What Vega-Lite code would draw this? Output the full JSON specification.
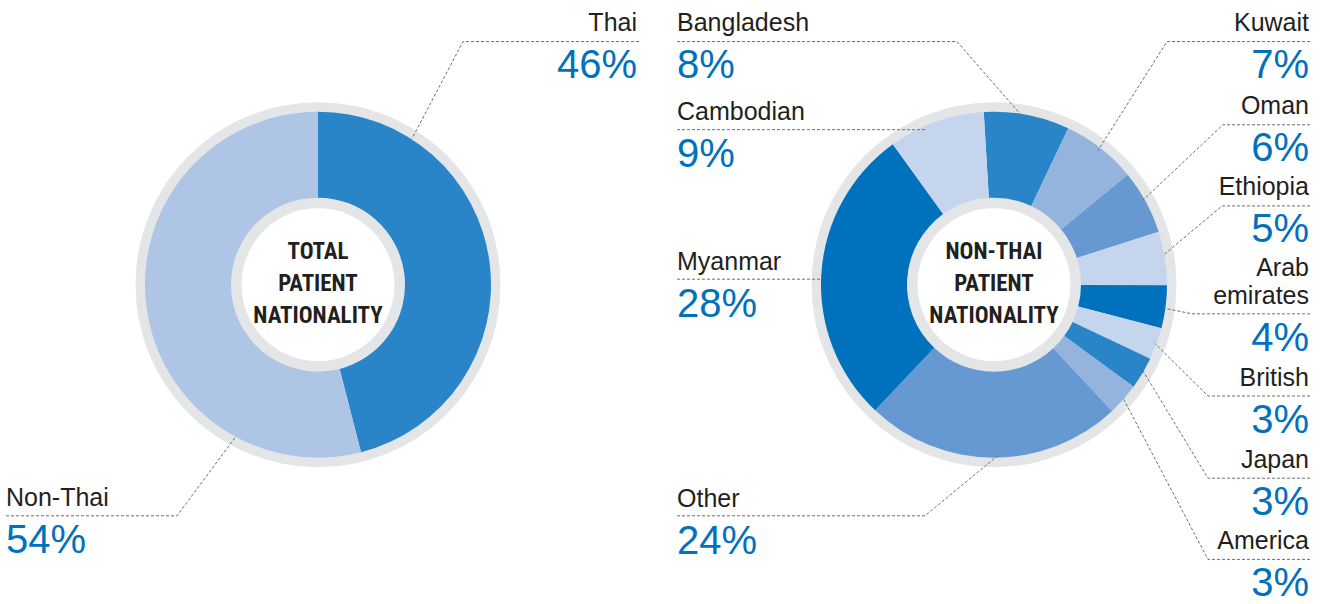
{
  "$schema": "https://vega.github.io/schema/vega-lite/v6.json",
  "width": 1325,
  "height": 604,
  "padding": 0,
  "autosize": {"type": "fit", "contains": "padding"},
  "background": "#ffffff",
  "config": {"view": {"stroke": null}},
  "datasets": {
    "shares": [
      {"donut": "Total", "nationality": "Thai", "share": 0.46, "order": 1},
      {"donut": "Total", "nationality": "Non-Thai", "share": 0.54, "order": 2},
      {"donut": "Non-Thai", "nationality": "Bangladesh", "share": 0.08, "order": 1},
      {"donut": "Non-Thai", "nationality": "Kuwait", "share": 0.07, "order": 2},
      {"donut": "Non-Thai", "nationality": "Oman", "share": 0.06, "order": 3},
      {"donut": "Non-Thai", "nationality": "Ethiopia", "share": 0.05, "order": 4},
      {"donut": "Non-Thai", "nationality": "Arab emirates", "share": 0.04, "order": 5},
      {"donut": "Non-Thai", "nationality": "British", "share": 0.03, "order": 6},
      {"donut": "Non-Thai", "nationality": "Japan", "share": 0.03, "order": 7},
      {"donut": "Non-Thai", "nationality": "America", "share": 0.03, "order": 8},
      {"donut": "Non-Thai", "nationality": "Other", "share": 0.24, "order": 9},
      {"donut": "Non-Thai", "nationality": "Myanmar", "share": 0.28, "order": 10},
      {"donut": "Non-Thai", "nationality": "Cambodian", "share": 0.09, "order": 11}
    ],
    "centres": [
      {"donut": "Total", "title": "TOTAL\nPATIENT\nNATIONALITY"},
      {"donut": "Non-Thai", "title": "NON-THAI\nPATIENT\nNATIONALITY"}
    ],
    "layout": [
      {"nationality": "Thai", "label": "Thai", "side": "right", "lx": 637, "ly": 31},
      {"nationality": "Non-Thai", "label": "Non-Thai", "side": "left", "lx": 6, "ly": 511},
      {"nationality": "Bangladesh", "label": "Bangladesh", "side": "left", "lx": 677, "ly": 31},
      {"nationality": "Cambodian", "label": "Cambodian", "side": "left", "lx": 677, "ly": 121},
      {"nationality": "Myanmar", "label": "Myanmar", "side": "left", "lx": 677, "ly": 273},
      {"nationality": "Other", "label": "Other", "side": "left", "lx": 677, "ly": 512},
      {"nationality": "Kuwait", "label": "Kuwait", "side": "right", "lx": 1309, "ly": 31},
      {"nationality": "Oman", "label": "Oman", "side": "right", "lx": 1309, "ly": 115},
      {"nationality": "Ethiopia", "label": "Ethiopia", "side": "right", "lx": 1309, "ly": 197},
      {"nationality": "Arab emirates", "label": "Arab\nemirates", "side": "right", "lx": 1309, "ly": 307},
      {"nationality": "British", "label": "British", "side": "right", "lx": 1309, "ly": 390},
      {"nationality": "Japan", "label": "Japan", "side": "right", "lx": 1309, "ly": 473},
      {"nationality": "America", "label": "America", "side": "right", "lx": 1309, "ly": 555}
    ],
    "leaders": [
      {"id": "Thai", "k": 1, "x": 639, "y": 42}, {"id": "Thai", "k": 2, "x": 463, "y": 42}, {"id": "Thai", "k": 3, "x": 412, "y": 140},
      {"id": "Non-Thai", "k": 1, "x": 6, "y": 521}, {"id": "Non-Thai", "k": 2, "x": 177, "y": 521}, {"id": "Non-Thai", "k": 3, "x": 235, "y": 442},
      {"id": "Bangladesh", "k": 1, "x": 677, "y": 42}, {"id": "Bangladesh", "k": 2, "x": 957, "y": 42}, {"id": "Bangladesh", "k": 3, "x": 1021, "y": 116},
      {"id": "Cambodian", "k": 1, "x": 677, "y": 131}, {"id": "Cambodian", "k": 2, "x": 925, "y": 131},
      {"id": "Myanmar", "k": 1, "x": 677, "y": 282}, {"id": "Myanmar", "k": 2, "x": 822, "y": 282},
      {"id": "Other", "k": 1, "x": 677, "y": 521}, {"id": "Other", "k": 2, "x": 925, "y": 521}, {"id": "Other", "k": 3, "x": 998, "y": 460},
      {"id": "Kuwait", "k": 1, "x": 1310, "y": 42}, {"id": "Kuwait", "k": 2, "x": 1167, "y": 42}, {"id": "Kuwait", "k": 3, "x": 1098, "y": 152},
      {"id": "Oman", "k": 1, "x": 1310, "y": 126}, {"id": "Oman", "k": 2, "x": 1223, "y": 126}, {"id": "Oman", "k": 3, "x": 1143, "y": 202},
      {"id": "Ethiopia", "k": 1, "x": 1310, "y": 208}, {"id": "Ethiopia", "k": 2, "x": 1222, "y": 208}, {"id": "Ethiopia", "k": 3, "x": 1163, "y": 258},
      {"id": "Arab emirates", "k": 1, "x": 1310, "y": 317}, {"id": "Arab emirates", "k": 2, "x": 1192, "y": 317}, {"id": "Arab emirates", "k": 3, "x": 1163, "y": 311},
      {"id": "British", "k": 1, "x": 1310, "y": 400}, {"id": "British", "k": 2, "x": 1208, "y": 400}, {"id": "British", "k": 3, "x": 1155, "y": 347},
      {"id": "Japan", "k": 1, "x": 1310, "y": 483}, {"id": "Japan", "k": 2, "x": 1208, "y": 483}, {"id": "Japan", "k": 3, "x": 1142, "y": 373},
      {"id": "America", "k": 1, "x": 1310, "y": 565}, {"id": "America", "k": 2, "x": 1208, "y": 565}, {"id": "America", "k": 3, "x": 1123, "y": 402}
    ]
  },
  "resolve": {"scale": {"theta": "independent", "color": "independent"}},
  "layer": [
    {
      "data": {"name": "centres"},
      "transform": [{"filter": "datum.donut === 'Total'"}],
      "mark": {"type": "circle", "size": 133225, "color": "#e4e5e7", "opacity": 1, "strokeWidth": 0},
      "encoding": {
        "x": {"datum": 318, "type": "quantitative", "scale": {"domain": [0, 1325], "nice": false, "zero": false}, "axis": null},
        "y": {"datum": 287.5, "type": "quantitative", "scale": {"domain": [0, 604], "nice": false, "zero": false, "reverse": true}, "axis": null}
      }
    },
    {
      "data": {"name": "centres"},
      "transform": [{"filter": "datum.donut === 'Non-Thai'"}],
      "mark": {"type": "circle", "size": 133225, "color": "#e4e5e7", "opacity": 1, "strokeWidth": 0},
      "encoding": {
        "x": {"datum": 994, "type": "quantitative", "axis": null},
        "y": {"datum": 287.5, "type": "quantitative", "axis": null}
      }
    },
    {
      "data": {"name": "shares"},
      "transform": [{"filter": "datum.donut === 'Total'"}],
      "mark": {"type": "arc", "radius": 173, "radius2": 87},
      "encoding": {
        "x": {"datum": 318, "type": "quantitative", "axis": null},
        "y": {"datum": 287.5, "type": "quantitative", "axis": null},
        "theta": {"field": "share", "type": "quantitative", "stack": true},
        "order": {"field": "order", "type": "quantitative"},
        "color": {"field": "nationality", "type": "nominal", "legend": null,
          "scale": {"domain": ["Thai", "Non-Thai"], "range": ["#2a84c8", "#aec5e5"]}}
      }
    },
    {
      "data": {"name": "shares"},
      "transform": [{"filter": "datum.donut === 'Non-Thai'"}],
      "mark": {"type": "arc", "radius": 173, "radius2": 87},
      "encoding": {
        "x": {"datum": 994, "type": "quantitative", "axis": null},
        "y": {"datum": 287.5, "type": "quantitative", "axis": null},
        "theta": {"field": "share", "type": "quantitative", "stack": true, "scale": {"range": [-0.0593, 6.2239]}},
        "order": {"field": "order", "type": "quantitative"},
        "color": {"field": "nationality", "type": "nominal", "legend": null,
          "scale": {
            "domain": ["Bangladesh", "Kuwait", "Oman", "Ethiopia", "Arab emirates", "British", "Japan", "America", "Other", "Myanmar", "Cambodian"],
            "range": ["#2a84c8", "#94b4de", "#6699d1", "#c5d5ee", "#0071bc", "#c5d5ee", "#2a84c8", "#94b4de", "#6699d1", "#0071bc", "#c5d5ee"]
          }}
      }
    },
    {
      "data": {"name": "centres"},
      "transform": [{"filter": "datum.donut === 'Total'"}],
      "mark": {"type": "circle", "size": 23409, "color": "#ffffff", "opacity": 1, "strokeWidth": 0},
      "encoding": {
        "x": {"datum": 318, "type": "quantitative", "axis": null},
        "y": {"datum": 287.5, "type": "quantitative", "axis": null}
      }
    },
    {
      "data": {"name": "centres"},
      "transform": [{"filter": "datum.donut === 'Non-Thai'"}],
      "mark": {"type": "circle", "size": 23409, "color": "#ffffff", "opacity": 1, "strokeWidth": 0},
      "encoding": {
        "x": {"datum": 994, "type": "quantitative", "axis": null},
        "y": {"datum": 287.5, "type": "quantitative", "axis": null}
      }
    },
    {
      "data": {"name": "centres"},
      "transform": [{"filter": "datum.donut === 'Total'"}],
      "mark": {"type": "text", "font": "Liberation Sans Narrow, Roboto Condensed, DejaVu Sans Condensed, sans-serif", "fontWeight": "bold", "fontSize": 23, "lineHeight": 32, "lineBreak": "\n", "align": "center", "baseline": "alphabetic", "color": "#231f20"},
      "encoding": {
        "x": {"datum": 318, "type": "quantitative", "axis": null},
        "y": {"datum": 262, "type": "quantitative", "axis": null},
        "text": {"field": "title"}
      }
    },
    {
      "data": {"name": "centres"},
      "transform": [{"filter": "datum.donut === 'Non-Thai'"}],
      "mark": {"type": "text", "font": "Liberation Sans Narrow, Roboto Condensed, DejaVu Sans Condensed, sans-serif", "fontWeight": "bold", "fontSize": 23, "lineHeight": 32, "lineBreak": "\n", "align": "center", "baseline": "alphabetic", "color": "#231f20"},
      "encoding": {
        "x": {"datum": 994, "type": "quantitative", "axis": null},
        "y": {"datum": 262, "type": "quantitative", "axis": null},
        "text": {"field": "title"}
      }
    },
    {
      "data": {"name": "leaders"},
      "mark": {"type": "line", "strokeDash": [3, 2], "strokeWidth": 1, "color": "#6d6e71"},
      "encoding": {
        "x": {"field": "x", "type": "quantitative", "axis": null},
        "y": {"field": "y", "type": "quantitative", "axis": null},
        "detail": {"field": "id"},
        "order": {"field": "k", "type": "quantitative"}
      }
    },
    {
      "data": {"name": "shares"},
      "transform": [
        {"lookup": "nationality", "from": {"data": {"name": "layout"}, "key": "nationality", "fields": ["label", "side", "lx", "ly"]}},
        {"filter": "datum.side === 'left'"}
      ],
      "mark": {"type": "text", "font": "Liberation Sans", "fontSize": 25, "align": "left", "baseline": "alphabetic", "color": "#231f20"},
      "encoding": {
        "x": {"field": "lx", "type": "quantitative", "axis": null},
        "y": {"field": "ly", "type": "quantitative", "axis": null},
        "text": {"field": "label"}
      }
    },
    {
      "data": {"name": "shares"},
      "transform": [
        {"lookup": "nationality", "from": {"data": {"name": "layout"}, "key": "nationality", "fields": ["label", "side", "lx", "ly"]}},
        {"filter": "datum.side === 'right' && indexof(datum.label, '\\n') < 0"}
      ],
      "mark": {"type": "text", "font": "Liberation Sans", "fontSize": 25, "align": "right", "baseline": "alphabetic", "color": "#231f20"},
      "encoding": {
        "x": {"field": "lx", "type": "quantitative", "axis": null},
        "y": {"field": "ly", "type": "quantitative", "axis": null},
        "text": {"field": "label"}
      }
    },
    {
      "data": {"name": "shares"},
      "transform": [
        {"lookup": "nationality", "from": {"data": {"name": "layout"}, "key": "nationality", "fields": ["label", "side", "lx", "ly"]}},
        {"filter": "datum.side === 'right' && indexof(datum.label, '\\n') >= 0"}
      ],
      "mark": {"type": "text", "font": "Liberation Sans", "fontSize": 25, "lineHeight": 28, "lineBreak": "\n", "align": "right", "baseline": "alphabetic", "dy": -28, "color": "#231f20"},
      "encoding": {
        "x": {"field": "lx", "type": "quantitative", "axis": null},
        "y": {"field": "ly", "type": "quantitative", "axis": null},
        "text": {"field": "label"}
      }
    },
    {
      "data": {"name": "shares"},
      "transform": [
        {"lookup": "nationality", "from": {"data": {"name": "layout"}, "key": "nationality", "fields": ["side", "lx", "ly"]}},
        {"filter": "datum.side === 'left'"}
      ],
      "mark": {"type": "text", "font": "Liberation Sans", "fontSize": 40, "align": "left", "baseline": "alphabetic", "dy": 47, "color": "#0071bc"},
      "encoding": {
        "x": {"field": "lx", "type": "quantitative", "axis": null},
        "y": {"field": "ly", "type": "quantitative", "axis": null},
        "text": {"field": "share", "type": "quantitative", "format": ".0%"}
      }
    },
    {
      "data": {"name": "shares"},
      "transform": [
        {"lookup": "nationality", "from": {"data": {"name": "layout"}, "key": "nationality", "fields": ["side", "lx", "ly"]}},
        {"filter": "datum.side === 'right'"}
      ],
      "mark": {"type": "text", "font": "Liberation Sans", "fontSize": 40, "align": "right", "baseline": "alphabetic", "dy": 47, "color": "#0071bc"},
      "encoding": {
        "x": {"field": "lx", "type": "quantitative", "axis": null},
        "y": {"field": "ly", "type": "quantitative", "axis": null},
        "text": {"field": "share", "type": "quantitative", "format": ".0%"}
      }
    }
  ]
}
